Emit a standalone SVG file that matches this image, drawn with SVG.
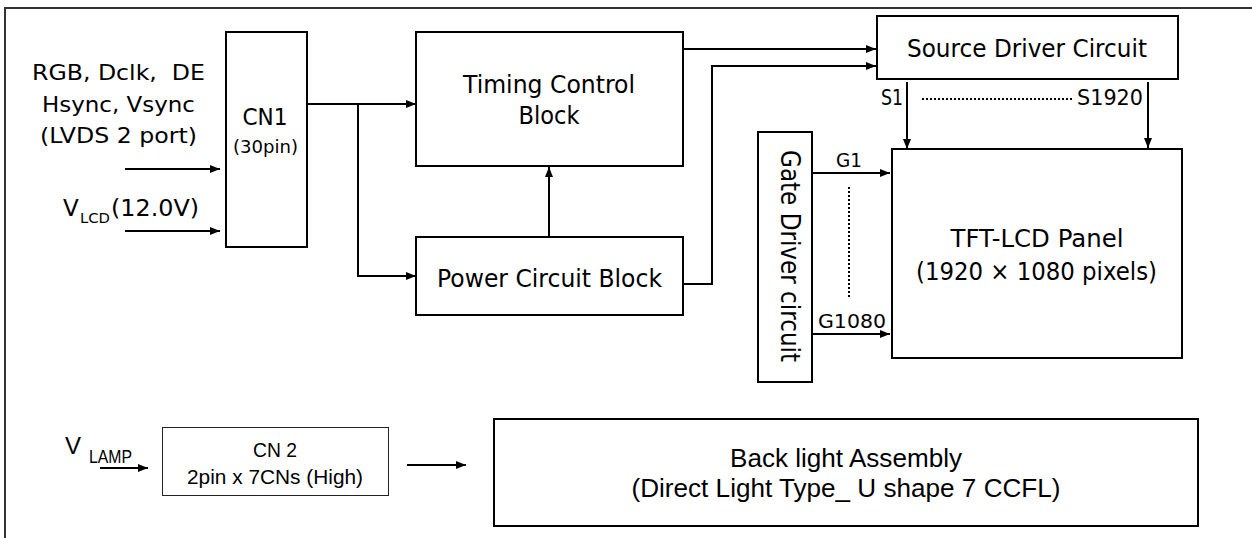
<svg xmlns="http://www.w3.org/2000/svg" width="1252" height="538" viewBox="0 0 1252 538">
<style>
.box{fill:#fff;stroke:#000;stroke-width:2}
.thin{fill:#fff;stroke:#222;stroke-width:1}
.ln{fill:none;stroke:#000;stroke-width:2}
.dot{fill:none;stroke:#000;stroke-width:2;stroke-dasharray:2 2}
.t{font-family:"DejaVu Sans",sans-serif;fill:#000}
.a{font-family:"Liberation Sans",Arial,sans-serif;fill:#000}
.m{text-anchor:middle}
</style>
<defs>
<marker id="ah" markerUnits="userSpaceOnUse" markerWidth="10" markerHeight="8" refX="10" refY="4" orient="auto">
<path d="M0,0 L10,4 L0,8 z" fill="#000"/>
</marker>
</defs>
<rect width="1252" height="538" fill="#fff"/>
<g id="frame"><path d="M1252,8 H5 V538" fill="none" stroke="#333" stroke-width="2"/></g>

<g id="inputs">
<text class="t m" x="118.5" y="80" font-size="21" textLength="173" lengthAdjust="spacingAndGlyphs" xml:space="preserve">RGB, Dclk,  DE</text>
<text class="t m" x="118.5" y="112" font-size="21" textLength="153" lengthAdjust="spacingAndGlyphs">Hsync, Vsync</text>
<text class="t m" x="118.5" y="143" font-size="21" textLength="157" lengthAdjust="spacingAndGlyphs">(LVDS 2 port)</text>
<text class="t" x="63" y="216" font-size="23">V</text>
<text class="t" x="80" y="223" font-size="14" textLength="30" lengthAdjust="spacingAndGlyphs">LCD</text>
<text class="t" x="111" y="216" font-size="23" textLength="88" lengthAdjust="spacingAndGlyphs">(12.0V)</text>
</g>

<g id="cn1">
<rect class="box" x="226" y="32" width="81" height="215"/>
<text class="t m" x="265" y="125" font-size="23" textLength="45" lengthAdjust="spacingAndGlyphs">CN1</text>
<text class="t m" x="265.5" y="153" font-size="17" textLength="65" lengthAdjust="spacingAndGlyphs">(30pin)</text>
</g>

<g id="timing">
<rect class="box" x="416" y="32" width="267" height="134"/>
<text class="t m" x="549" y="93" font-size="25" textLength="172" lengthAdjust="spacingAndGlyphs">Timing Control</text>
<text class="t m" x="549" y="124" font-size="25" textLength="61" lengthAdjust="spacingAndGlyphs">Block</text>
</g>

<g id="power">
<rect class="box" x="416" y="237" width="267" height="78"/>
<text class="t m" x="549.5" y="287" font-size="25" textLength="225" lengthAdjust="spacingAndGlyphs">Power Circuit Block</text>
</g>

<g id="source">
<rect class="box" x="877" y="16" width="301" height="63"/>
<text class="t m" x="1027" y="57" font-size="25" textLength="240" lengthAdjust="spacingAndGlyphs">Source Driver Circuit</text>
</g>

<g id="gate">
<rect class="box" x="758" y="132" width="54" height="250"/>
<text class="t m" transform="translate(781,256) rotate(90)" font-size="26" textLength="212" lengthAdjust="spacingAndGlyphs">Gate Driver circuit</text>
</g>

<g id="panel">
<rect class="box" x="892" y="149" width="290" height="209"/>
<text class="t m" x="1037" y="247" font-size="24" textLength="173" lengthAdjust="spacingAndGlyphs">TFT-LCD Panel</text>
<text class="t m" x="1036.5" y="280" font-size="24" textLength="241" lengthAdjust="spacingAndGlyphs">(1920 × 1080 pixels)</text>
</g>

<g id="lamp">
<text class="a" x="65" y="454" font-size="24">V</text>
<text class="a" x="89" y="463" font-size="19" textLength="43" lengthAdjust="spacingAndGlyphs">LAMP</text>
</g>

<g id="cn2">
<rect class="thin" x="162.5" y="427.5" width="226" height="68"/>
<text class="a m" x="275" y="457" font-size="21" textLength="44" lengthAdjust="spacingAndGlyphs">CN 2</text>
<text class="a m" x="275" y="484" font-size="21" textLength="176" lengthAdjust="spacingAndGlyphs">2pin x 7CNs (High)</text>
</g>

<g id="backlight">
<rect class="box" x="494" y="419" width="704" height="107"/>
<text class="a m" x="846" y="467" font-size="26" textLength="232" lengthAdjust="spacingAndGlyphs">Back light Assembly</text>
<text class="a m" x="846" y="497" font-size="26" textLength="429" lengthAdjust="spacingAndGlyphs">(Direct Light Type_ U shape 7 CCFL)</text>
</g>

<g id="labels">
<text class="t" x="881" y="105" font-size="21" textLength="22" lengthAdjust="spacingAndGlyphs">S1</text>
<text class="t" x="1077" y="105" font-size="21" textLength="66" lengthAdjust="spacingAndGlyphs">S1920</text>
<text class="t" x="836" y="167" font-size="20" textLength="26" lengthAdjust="spacingAndGlyphs">G1</text>
<text class="t" x="818" y="328" font-size="20" textLength="68" lengthAdjust="spacingAndGlyphs">G1080</text>
</g>

<g id="connectors">
<path class="ln" d="M125,169 H220" marker-end="url(#ah)"/>
<path class="ln" d="M125,231 H220" marker-end="url(#ah)"/>
<path class="ln" d="M307,104 H416" marker-end="url(#ah)"/>
<path class="ln" d="M358,104 V276 H416" marker-end="url(#ah)"/>
<path class="ln" d="M549,237 V167" marker-end="url(#ah)"/>
<path class="ln" d="M683,49 H876" marker-end="url(#ah)"/>
<path class="ln" d="M683,284 H712 V66 H876" marker-end="url(#ah)"/>
<path class="ln" d="M907,82 V149" marker-end="url(#ah)"/>
<path class="ln" d="M1148,82 V148" marker-end="url(#ah)"/>
<path class="ln" d="M812,173 H890" marker-end="url(#ah)"/>
<path class="ln" d="M812,334 H890" marker-end="url(#ah)"/>
<path class="ln" d="M100,468 H148" marker-end="url(#ah)"/>
<path class="ln" d="M407,465 H466" marker-end="url(#ah)"/>
<path class="dot" d="M922,99 H1073"/>
<path class="dot" d="M849,187 V297"/>
</g>
</svg>
